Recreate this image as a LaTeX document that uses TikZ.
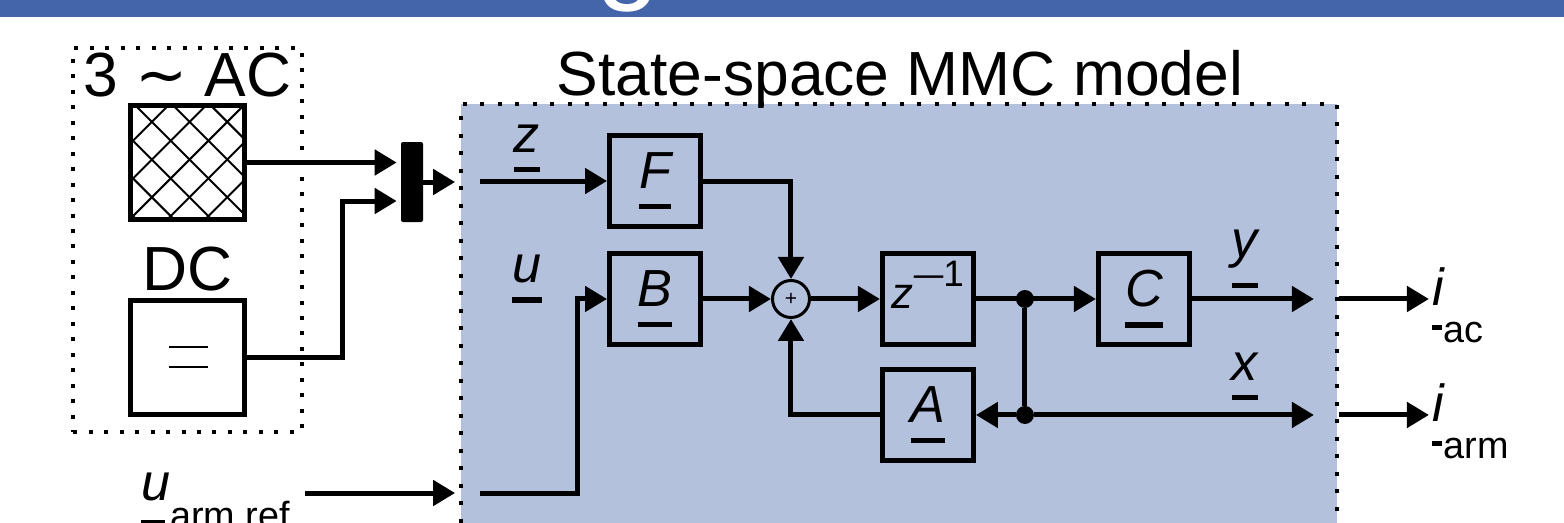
\documentclass[tikz,border=0pt]{standalone}
\usepackage{fontspec}
\setmainfont{Liberation Sans}
\newfontfamily\symfnt{DejaVu Sans}
\usepackage{tikz}
\usetikzlibrary{arrows.meta,positioning,calc}
\definecolor{barblue}{RGB}{69,101,171}
\definecolor{mdlfill}{RGB}{180,193,221}
\newcommand\lblfont{\fontsize{29.7}{34}\selectfont}
\newcommand\bigfont{\fontsize{35.5}{40}\selectfont}
\newcommand\uvec[1]{\sbox0{\itshape #1}\usebox0\llap{\rule[\dimexpr-\dp0-11.5pt\relax]{\wd0}{3pt}}}
\newcommand\usig[3][21pt]{\sbox0{\itshape #2}\rlap{\rule[-13.5pt]{0.8\wd0}{2.4pt}}\usebox0\raisebox{-#1}{\fontsize{21.5}{24}\selectfont #3}}
\tikzset{
  blk/.style    = {draw, line width=0.1cm, rectangle, minimum size=1.82cm,
                   inner sep=0pt, font=\lblfont},
  srcblk/.style = {draw, line width=0.1cm, rectangle, minimum size=2.28cm, inner sep=0pt},
  sumpt/.style  = {draw, circle, line width=0.06cm, minimum size=0.74cm, inner sep=0pt,
                   font=\fontsize{12}{12}\selectfont},
  junc/.style   = {fill, circle, inner sep=0pt, minimum size=0.36cm},
  flow/.style   = {-{Triangle[length=0.44cm,width=0.5cm]}, line width=0.1cm},
  wire/.style   = {line width=0.1cm},
}

\begin{document}
\begin{tikzpicture}[x=0.02cm, y=-0.02cm,
  lbl/.style={inner sep=0pt, font=\lblfont},
  bigtxt/.style={inner sep=0pt, font=\bigfont},
  srcbox/.style={draw, line width=0.08cm, dash pattern=on 0.08cm off 0.23cm,
                 minimum width=4.58cm, minimum height=7.68cm, inner sep=0pt},
  mdlbox/.style={draw, fill=mdlfill, line width=0.08cm, dash pattern=on 0.08cm off 0.27cm,
                 minimum width=17.52cm, minimum height=9.52cm, inner sep=0pt},
  muxbar/.style={fill, rounded corners=0.04cm, minimum width=0.44cm,
                 minimum height=1.6cm, inner sep=0pt}]
\useasboundingbox (0,0) rectangle (1564,522);
\clip (0,0) rectangle (1564,522);
\fill[barblue] (0,0) rectangle (1564,17);
\node[text=white, inner sep=0pt, font=\fontsize{65}{70}\selectfont, anchor=base] (ttlg) at (628,-12) {g};

% sources
\node[srcbox] (src) at (187.5,240) {};
\node[srcblk] (ac) at (187.5,162.5) {};
\node[srcblk] (dc) at (187.5,357) {};
\node[bigtxt, above=0.12cm of ac] (aclbl) {3 {\symfnt ∼} AC};
\node[bigtxt, above=0.12cm of dc] (dclbl) {DC};
\begin{scope}
  \clip (ac.south west) rectangle (ac.north east);
  \foreach \k in {-4,...,7}
    \draw[line width=0.04cm] ([xshift=\k*0.754cm+0.1cm]ac.north west) -- ++(150,150)
                             ([xshift=\k*0.754cm+0.1cm]ac.north west) -- ++(-150,150);
\end{scope}
\draw[line width=0.05cm] ([shift={(-19,-10)}]dc.center) -- ++(39,0)
                         ([shift={(-19,10)}]dc.center) -- ++(39,0);
\node[muxbar] (mux) at (412,182) {};
\draw[flow, shorten >=0.08cm] (ac.east) -- (ac.east -| mux.west);
\draw[flow, shorten >=0.08cm] (dc.east) -- ++(96,0) |- ([yshift=-0.38cm]mux.west);
\node[lbl, anchor=base west] (uref) at (141,500) {\usig[16pt]{u}{arm,ref}};
\coordinate (uarm) at (305,493);

% state-space model
\node[mdlbox] (mdl) at (899,342) {};
\node[bigtxt, anchor=base] (mdlttl) at (900,95) {State-space MMC model};
\coordinate (mdlin) at ($(mdl.west)+(-4,0)$);
\draw[flow] (mux.east) -- (mux.east -| mdlin);
\draw[flow] (uarm) -- (uarm -| mdlin);

\node[blk] (F) at (655,181) {\uvec{F}};
\node[blk, below=0.44cm of F] (B) {\uvec{B}};
\node[sumpt, right=1.36cm of B] (sum) {+};
\node[blk, right=1.38cm of sum] (dly) {{\fontsize{25}{28}\selectfont\textit{z}}\raisebox{12.5pt}{\fontsize{21}{24}\selectfont\scalebox{0.8}[1]{—}1}\rule[-16pt]{0pt}{16pt}};
\node[blk, right=2.4cm of dly] (C) {\uvec{C}};
\node[blk, below=0.4cm of dly] (A) {\uvec{A}};
\node[junc] (j1) at ([xshift=0.98cm]dly.east) {};
\node[junc] (j2) at (j1 |- A) {};
\coordinate (zin) at ($(mdl.west |- F)+(21,0)$);
\coordinate (urin) at ($(mdl.west |- uarm)+(21,0)$);
\coordinate (yend) at ($(mdl.east |- C)+(-25,0)$);
\coordinate (xend) at ($(mdl.east |- A)+(-25,0)$);

\node[lbl, anchor=base] (zlbl) at (527,152) {\uvec{z}};
\node[lbl, anchor=base] (ulbl) at (527,282) {\uvec{u}};
\node[lbl, anchor=base] (ylbl) at (1245,257) {\uvec{y}};
\node[lbl, anchor=base] (xlbl) at (1245,380) {\uvec{x}};

\draw[flow] (zin) -- (F);
\draw[flow] (urin) -- ++(97,0) |- (B.west);
\draw[flow] (F.east) -| (sum.north);
\draw[flow] (B) -- (sum);
\draw[flow] (sum) -- (dly);
\draw[flow] (dly) -- (C);
\draw[flow] (C) -- (yend);
\draw[wire] (j1) -- (j2);
\draw[flow] (j2) -- (A);
\draw[flow] (j2) -- (xend);
\draw[flow] (A.west) -| (sum.south);

% outputs
\draw[flow] (mdl.east |- C) -- ++(90,0) coordinate (acend);
\draw[flow] (mdl.east |- A) -- ++(90,0) coordinate (armend);
\node[lbl, anchor=base west] (iac) at ($(acend)+(3,7)$) {\usig{i}{ac}};
\node[lbl, anchor=base west] (iarm) at ($(armend)+(3,7)$) {\usig{i}{arm}};
\end{tikzpicture}
\end{document}
